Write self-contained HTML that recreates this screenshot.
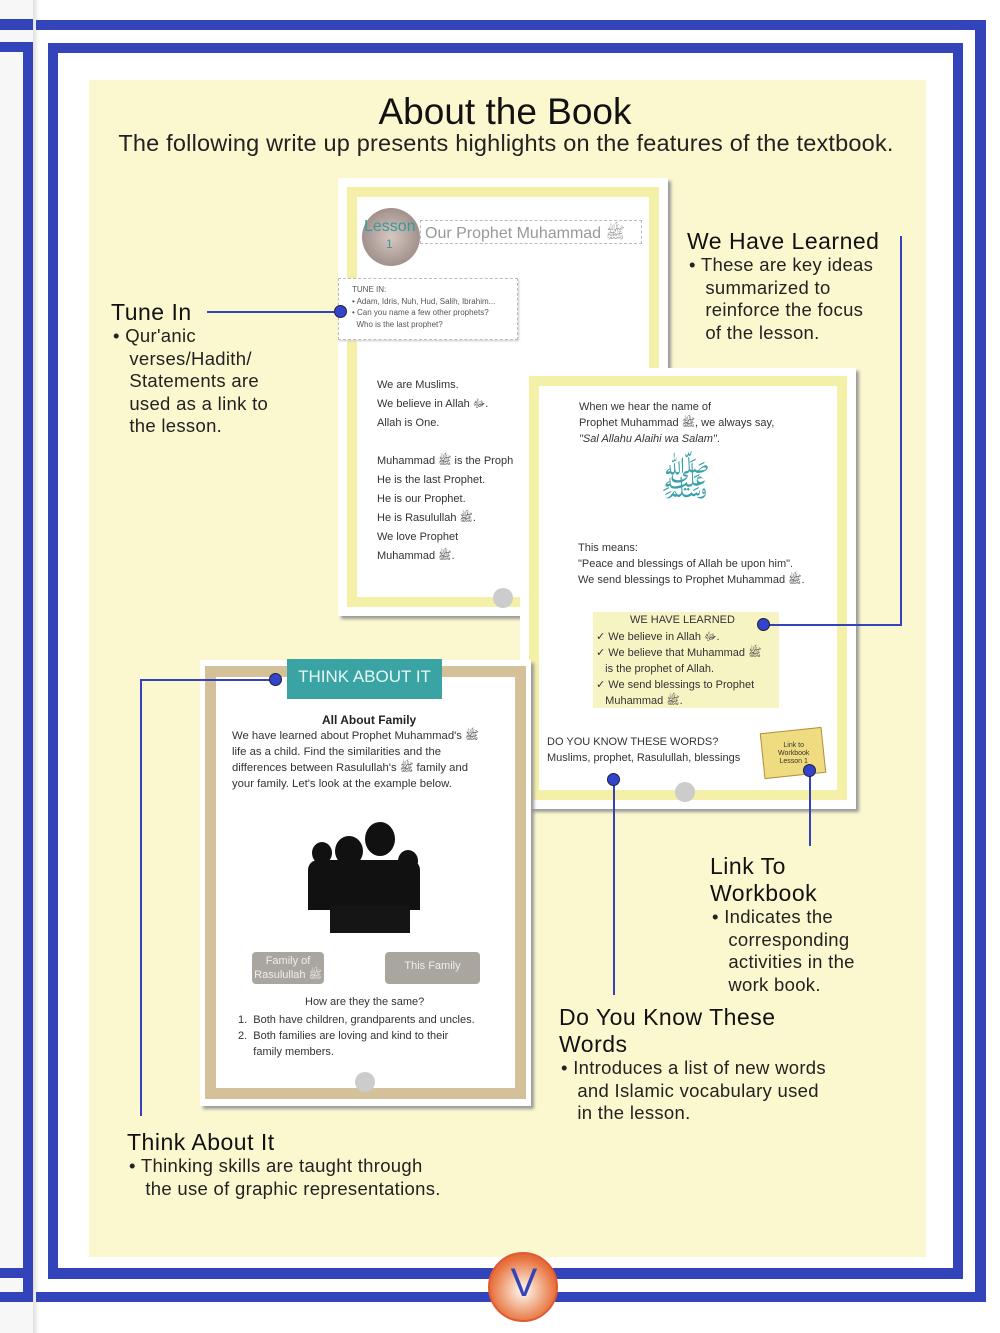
<!DOCTYPE html>
<html><head><meta charset="utf-8"><style>
*{margin:0;padding:0;box-sizing:border-box}
body{width:1000px;height:1333px;position:relative;background:#fff;font-family:"Liberation Sans","DejaVu Sans",sans-serif;overflow:hidden;color:#222}
.a{position:absolute}
.b{background:#3344bb;position:absolute}
.t{position:absolute;white-space:nowrap}
.h{font-size:23px;color:#111;letter-spacing:.5px}
.p{font-size:18.5px;color:#222;line-height:22.5px;letter-spacing:.3px}
.s{font-size:11px;color:#333;line-height:19px}
.dot{position:absolute;width:13px;height:13px;border-radius:50%;background:#3344cc;border:1px solid #223}
</style></head><body>
<div class="a" style="left:0;top:0;width:36px;height:1333px;background:#f7f7f7"></div>
<div class="a" style="left:33px;top:0;width:6px;height:1333px;background:linear-gradient(90deg,#ddd,#fff)"></div>
<div class="b" style="left:0;top:19px;width:33px;height:11px"></div>
<div class="b" style="left:0;top:42px;width:33px;height:10px"></div>
<div class="b" style="left:23px;top:42px;width:10px;height:1260px"></div>
<div class="b" style="left:0;top:1268px;width:33px;height:10px"></div>
<div class="b" style="left:0;top:1292px;width:33px;height:10px"></div>
<div class="b" style="left:36px;top:20px;width:950px;height:10px"></div>
<div class="b" style="left:48px;top:43px;width:915px;height:10px"></div>
<div class="b" style="left:48px;top:43px;width:10px;height:1236px"></div>
<div class="b" style="left:953px;top:43px;width:10px;height:1236px"></div>
<div class="b" style="left:975px;top:20px;width:11px;height:1282px"></div>
<div class="b" style="left:48px;top:1268px;width:915px;height:11px"></div>
<div class="b" style="left:36px;top:1292px;width:950px;height:10px"></div>
<div class="a" style="left:89px;top:80px;width:837px;height:1177px;background:#fbf8cf"></div>
<div class="t" style="left:0;width:1010px;text-align:center;top:91px;font-size:37px;color:#111">About the Book</div>
<div class="t" style="left:0;width:1012px;text-align:center;top:130px;font-size:23.5px;color:#222;letter-spacing:.2px">The following write up presents highlights on the features of the textbook.</div>

<div class="a" style="left:338px;top:178px;width:330px;height:438px;background:#fff;box-shadow:3px 3px 3px #999"></div>
<div class="a" style="left:347px;top:187px;width:312px;height:420px;border:10px solid #f4f0a8"></div>
<div class="a" style="left:362px;top:208px;width:58px;height:58px;border-radius:50%;background:radial-gradient(#d8c8c0,#8a7a78)"></div>
<div class="t" style="left:364px;top:218px;font-size:16px;color:#3a9a9a">Lesson</div>
<div class="t" style="left:386px;top:237px;font-size:12px;color:#3a9a9a">1</div>
<div class="a" style="left:420px;top:220px;width:222px;height:24px;border:1px dashed #bbb"></div>
<div class="t" style="left:425px;top:223px;font-size:16px;color:#999">Our Prophet Muhammad ﷺ</div>
<div class="a" style="left:338px;top:278px;width:180px;height:62px;background:#fff;border:1px dashed #bbb;box-shadow:1px 1px 2px #ccc"></div>
<div class="t" style="left:352px;top:284px;font-size:8px;line-height:11.5px;color:#555">TUNE IN:<br>• Adam, Idris, Nuh, Hud, Salih, Ibrahim...<br>• Can you name a few other prophets?<br>&nbsp;&nbsp;Who is the last prophet?</div>
<div class="t s" style="left:377px;top:376px">We are Muslims.<br>We believe in Allah ﷻ.<br>Allah is One.<br><br>Muhammad ﷺ is the Proph<br>He is the last Prophet.<br>He is our Prophet.<br>He is Rasulullah ﷺ.<br>We love Prophet<br>Muhammad ﷺ.</div>
<div class="a" style="left:493px;top:588px;width:20px;height:20px;border-radius:50%;background:#ccc"></div>

<div class="a" style="left:520px;top:368px;width:336px;height:441px;background:#fff;box-shadow:3px 3px 3px #999"></div>
<div class="a" style="left:529px;top:376px;width:318px;height:424px;border:10px solid #f4f0a8"></div>
<div class="t s" style="left:579px;top:399px;line-height:16px">When we hear the name of<br>Prophet Muhammad ﷺ, we always say,<br><i>"Sal Allahu Alaihi wa Salam"</i>.</div>
<div class="t" style="left:660px;top:455px;font-size:42px;color:#3aa0a8">ﷺ</div>
<div class="t s" style="left:578px;top:540px;line-height:16px">This means:<br>"Peace and blessings of Allah be upon him".<br>We send blessings to Prophet Muhammad ﷺ.</div>
<div class="a" style="left:593px;top:612px;width:186px;height:96px;background:#f7f4c4"></div>
<div class="t" style="left:630px;top:614px;font-size:11px;color:#333">WE HAVE LEARNED</div>
<div class="t s" style="left:596px;top:629px;line-height:16px">✓ We believe in Allah ﷻ.<br>✓ We believe that Muhammad ﷺ<br>&nbsp;&nbsp;&nbsp;is the prophet of Allah.<br>✓ We send blessings to Prophet<br>&nbsp;&nbsp;&nbsp;Muhammad ﷺ.</div>
<div class="t s" style="left:547px;top:734px;line-height:16px">DO YOU KNOW THESE WORDS?<br>Muslims, prophet, Rasulullah, blessings</div>
<div class="a" style="left:762px;top:730px;width:62px;height:46px;background:#f0dc80;border:1px solid #b09040;transform:rotate(-6deg)"></div>
<div class="t" style="left:778px;top:742px;font-size:7px;line-height:8px;color:#333;text-align:center">Link to<br>Workbook<br>Lesson 1</div>
<div class="a" style="left:675px;top:782px;width:20px;height:20px;border-radius:50%;background:#ccc"></div>

<div class="a" style="left:200px;top:660px;width:331px;height:446px;background:#fff;box-shadow:3px 3px 3px #999"></div>
<div class="a" style="left:205px;top:666px;width:321px;height:433px;border:11px solid #d4c19a"></div>
<div class="a" style="left:287px;top:659px;width:155px;height:40px;background:#3aa3a3"></div>
<div class="t" style="left:287px;top:667px;width:155px;text-align:center;font-size:17px;color:#e8f8f8">THINK ABOUT IT</div>
<div class="t" style="left:322px;top:713px;font-size:12px;font-weight:bold;color:#222">All About Family</div>
<div class="t" style="left:232px;top:728px;font-size:11.3px;line-height:16px;color:#333">We have learned about Prophet Muhammad's ﷺ<br>life as a child. Find the similarities and the<br>differences between Rasulullah's ﷺ family and<br>your family. Let's look at the example below.</div>
<div class="a" style="left:335px;top:836px;width:28px;height:30px;border-radius:50%;background:#111"></div>
<div class="a" style="left:365px;top:822px;width:30px;height:34px;border-radius:50%;background:#111"></div>
<div class="a" style="left:312px;top:842px;width:20px;height:22px;border-radius:50%;background:#111"></div>
<div class="a" style="left:398px;top:850px;width:20px;height:22px;border-radius:50%;background:#111"></div>
<div class="a" style="left:308px;top:860px;width:112px;height:50px;border-radius:10px 10px 0 0;background:#111"></div>
<div class="a" style="left:330px;top:905px;width:80px;height:28px;background:#151515"></div>
<div class="a" style="left:252px;top:952px;width:72px;height:32px;background:#aaa59e;border-radius:4px"></div>
<div class="t" style="left:252px;top:954px;width:72px;text-align:center;font-size:11px;line-height:14px;color:#eee">Family of<br>Rasulullah ﷺ</div>
<div class="a" style="left:385px;top:952px;width:95px;height:32px;background:#aaa59e;border-radius:4px"></div>
<div class="t" style="left:385px;top:960px;width:95px;text-align:center;font-size:11px;color:#eee">This Family</div>
<div class="t" style="left:305px;top:996px;font-size:11px;color:#333">How are they the same?</div>
<div class="t" style="left:238px;top:1012px;font-size:11px;line-height:16px;color:#333">1.&nbsp; Both have children, grandparents and uncles.<br>2.&nbsp; Both families are loving and kind to their<br>&nbsp;&nbsp;&nbsp;&nbsp; family members.</div>
<div class="a" style="left:355px;top:1072px;width:20px;height:20px;border-radius:50%;background:#ccc"></div>

<div class="b" style="left:207px;top:311px;width:135px;height:2px"></div>
<div class="dot" style="left:334px;top:305px"></div>
<div class="b" style="left:764px;top:624px;width:138px;height:2px"></div>
<div class="b" style="left:900px;top:236px;width:2px;height:390px"></div>
<div class="dot" style="left:757px;top:618px"></div>
<div class="b" style="left:140px;top:679px;width:136px;height:2px"></div>
<div class="b" style="left:140px;top:679px;width:2px;height:437px"></div>
<div class="dot" style="left:269px;top:673px"></div>
<div class="b" style="left:613px;top:780px;width:2px;height:215px"></div>
<div class="dot" style="left:607px;top:773px"></div>
<div class="b" style="left:809px;top:771px;width:2px;height:75px"></div>
<div class="dot" style="left:803px;top:764px"></div>

<div class="t h" style="left:111px;top:299px">Tune In</div>
<div class="t p" style="left:113px;top:325px">• Qur'anic<br>&nbsp;&nbsp; verses/Hadith/<br>&nbsp;&nbsp; Statements are<br>&nbsp;&nbsp; used as a link to<br>&nbsp;&nbsp; the lesson.</div>
<div class="t h" style="left:687px;top:228px">We Have Learned</div>
<div class="t p" style="left:689px;top:254px">• These are key ideas<br>&nbsp;&nbsp; summarized to<br>&nbsp;&nbsp; reinforce the focus<br>&nbsp;&nbsp; of the lesson.</div>
<div class="t h" style="left:710px;top:853px;line-height:27px">Link To<br>Workbook</div>
<div class="t p" style="left:712px;top:906px">• Indicates the<br>&nbsp;&nbsp; corresponding<br>&nbsp;&nbsp; activities in the<br>&nbsp;&nbsp; work book.</div>
<div class="t h" style="left:559px;top:1004px;line-height:27px">Do You Know These<br>Words</div>
<div class="t p" style="left:561px;top:1057px">• Introduces a list of new words<br>&nbsp;&nbsp; and Islamic vocabulary used<br>&nbsp;&nbsp; in the lesson.</div>
<div class="t h" style="left:127px;top:1129px">Think About It</div>
<div class="t p" style="left:129px;top:1155px">• Thinking skills are taught through<br>&nbsp;&nbsp; the use of graphic representations.</div>

<div class="a" style="left:488px;top:1252px;width:70px;height:70px;border-radius:50%;background:radial-gradient(circle at 50% 55%,#fbe8d8 10%,#e8743f 65%,#d6402a);border:2px solid #e05a30"></div>
<div class="t" style="left:488px;top:1261px;width:72px;text-align:center;font-size:40px;color:#3344bb">V</div>
</body></html>
